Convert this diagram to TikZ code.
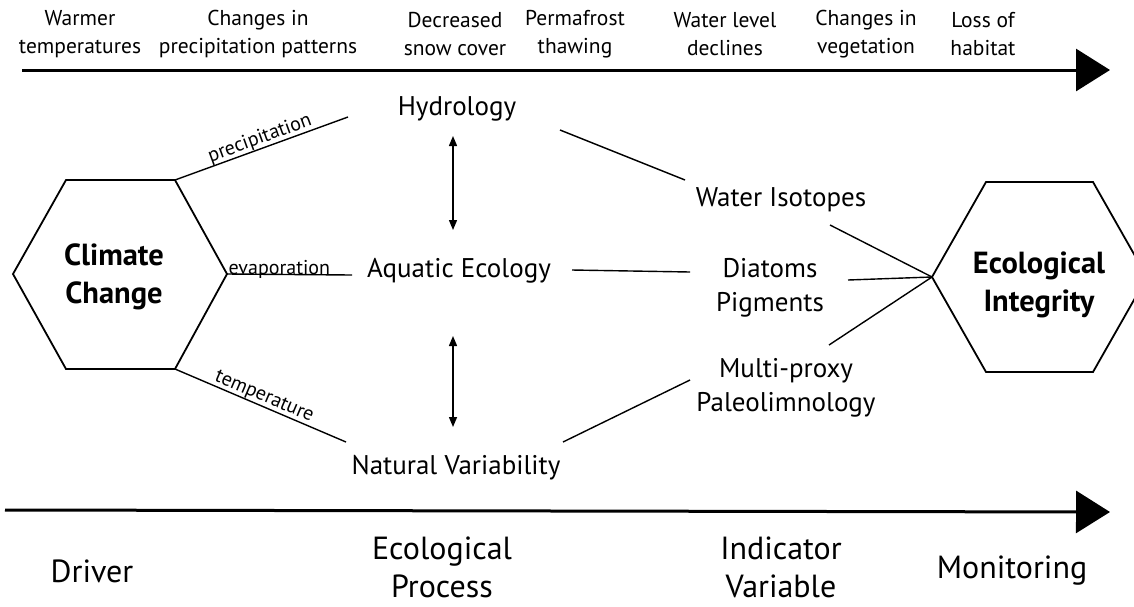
\documentclass[tikz,border=0pt]{standalone}
\usepackage{fontspec}
\setmainfont{PT Sans}
\usetikzlibrary{arrows.meta,calc}
\begin{document}
\begin{tikzpicture}[x=1pt,y=-1pt,
  lbl/.style={align=center,inner sep=0pt,font=\fontsize{21.5}{28}\selectfont},
  mid/.style={align=center,inner sep=0pt,font=\fontsize{27}{34}\selectfont},
  big/.style={align=center,inner sep=0pt,font=\fontsize{32}{38}\selectfont},
  hexlbl/.style={align=center,inner sep=0pt,font=\bfseries\fontsize{30.5}{38.5}\selectfont},
  edge/.style={line width=1.4pt},
  hexline/.style={line width=1.8pt,line join=miter},
  axis/.style={line width=3pt,-{Triangle[length=34pt,width=42pt]}},
  dbl/.style={line width=1.4pt,{Triangle[length=10pt,width=8pt]}-{Triangle[length=10pt,width=8pt]}},
  small/.style={inner sep=0pt,font=\fontsize{20}{22}\selectfont}]
\useasboundingbox (0,0) rectangle (1134,606);
\clip (0,0) rectangle (1134,606);
% top axis
\coordinate (t0) at (22,70);
\coordinate (t1) at (1110,70);
\draw[axis] (t0) -- (t1);
\node[lbl] (l1) at (80,34) {Warmer\\temperatures};
\node[lbl] (l2) at (258,34) {Changes in\\precipitation patterns};
\node[lbl] (l3) at (455,34) {Decreased\\snow cover};
\node[lbl] (l4) at (575,34) {Permafrost\\thawing};
\node[lbl] (l5) at (725,34) {Water level\\declines};
\node[lbl] (l6) at (866,34) {Changes in\\vegetation};
\node[lbl] (l7) at (983,34) {Loss of\\habitat};
% left hexagon
\coordinate (c1) at (13,274);
\coordinate (c2) at (66,180);
\coordinate (c3) at (175,180);
\coordinate (c4) at (227,274);
\coordinate (c5) at (175,369);
\coordinate (c6) at (66,369);
\draw[hexline] (c1) -- (c2) -- (c3) -- (c4) -- (c5) -- (c6) -- cycle;
\node[hexlbl] (cc) at (114,277) {Climate\\Change};
% right hexagon
\coordinate (e1) at (932,277);
\coordinate (e2) at (986,182);
\coordinate (e3) at (1093,182);
\coordinate (e4) at (1147,277);
\coordinate (e5) at (1093,372);
\coordinate (e6) at (986,372);
\draw[hexline] (e1) -- (e2) -- (e3) -- (e4) -- (e5) -- (e6) -- cycle;
\node[hexlbl] (ei) at (1039,285) {Ecological\\Integrity};
% middle nodes
\node[mid] (hyd) at (457,109) {Hydrology};
\node[mid] (aq) at (459,271) {Aquatic Ecology};
\node[mid] (nv) at (456,468) {Natural Variability};
\coordinate (h1) at (453,136);
\coordinate (h2) at (453,230);
\coordinate (h3) at (453,336);
\coordinate (h4) at (453,427);
\draw[dbl] (h1) -- (h2);
\draw[dbl] (h3) -- (h4);
% left connectors
\coordinate (pe) at (348,117);
\coordinate (ee) at (352,275);
\coordinate (te) at (346,442);
\draw[edge] (c3) -- node[small,sloped,anchor=south,pos=0.51]{precipitation} (pe);
\draw[edge] (c4) -- node[small,anchor=base west,pos=0,xshift=1pt]{evaporation} (ee);
\draw[edge] (c5) -- node[small,sloped,anchor=south,pos=0.5]{temperature} (te);
% indicator nodes
\node[mid] (wi) at (781,200) {Water Isotopes};
\node[mid] (dp) at (770,288) {Diatoms\\Pigments};
\node[mid] (mp) at (786,388) {Multi-proxy\\Paleolimnology};
\coordinate (hs) at (560,130);
\coordinate (hw) at (685,180);
\coordinate (as) at (572,270);
\coordinate (ad) at (690,272);
\coordinate (ns) at (563,442);
\coordinate (nm) at (690,380);
\draw[edge] (hs) -- (hw);
\draw[edge] (as) -- (ad);
\draw[edge] (ns) -- (nm);
\coordinate (w2) at (830,225);
\coordinate (d2) at (848,280);
\coordinate (m2) at (829,345);
\draw[edge] (w2) -- (e1);
\draw[edge] (d2) -- (e1);
\draw[edge] (m2) -- (e1);
% bottom axis
\coordinate (b0) at (5,510);
\coordinate (b1) at (1110,512);
\draw[axis] (b0) -- (b1);
\node[big] (dr) at (92,571) {Driver};
\node[big] (ep) at (442,567) {Ecological\\Process};
\node[big] (iv) at (781,567) {Indicator\\Variable};
\node[big] (mo) at (1012,571) {Monitoring};
\end{tikzpicture}
\end{document}
